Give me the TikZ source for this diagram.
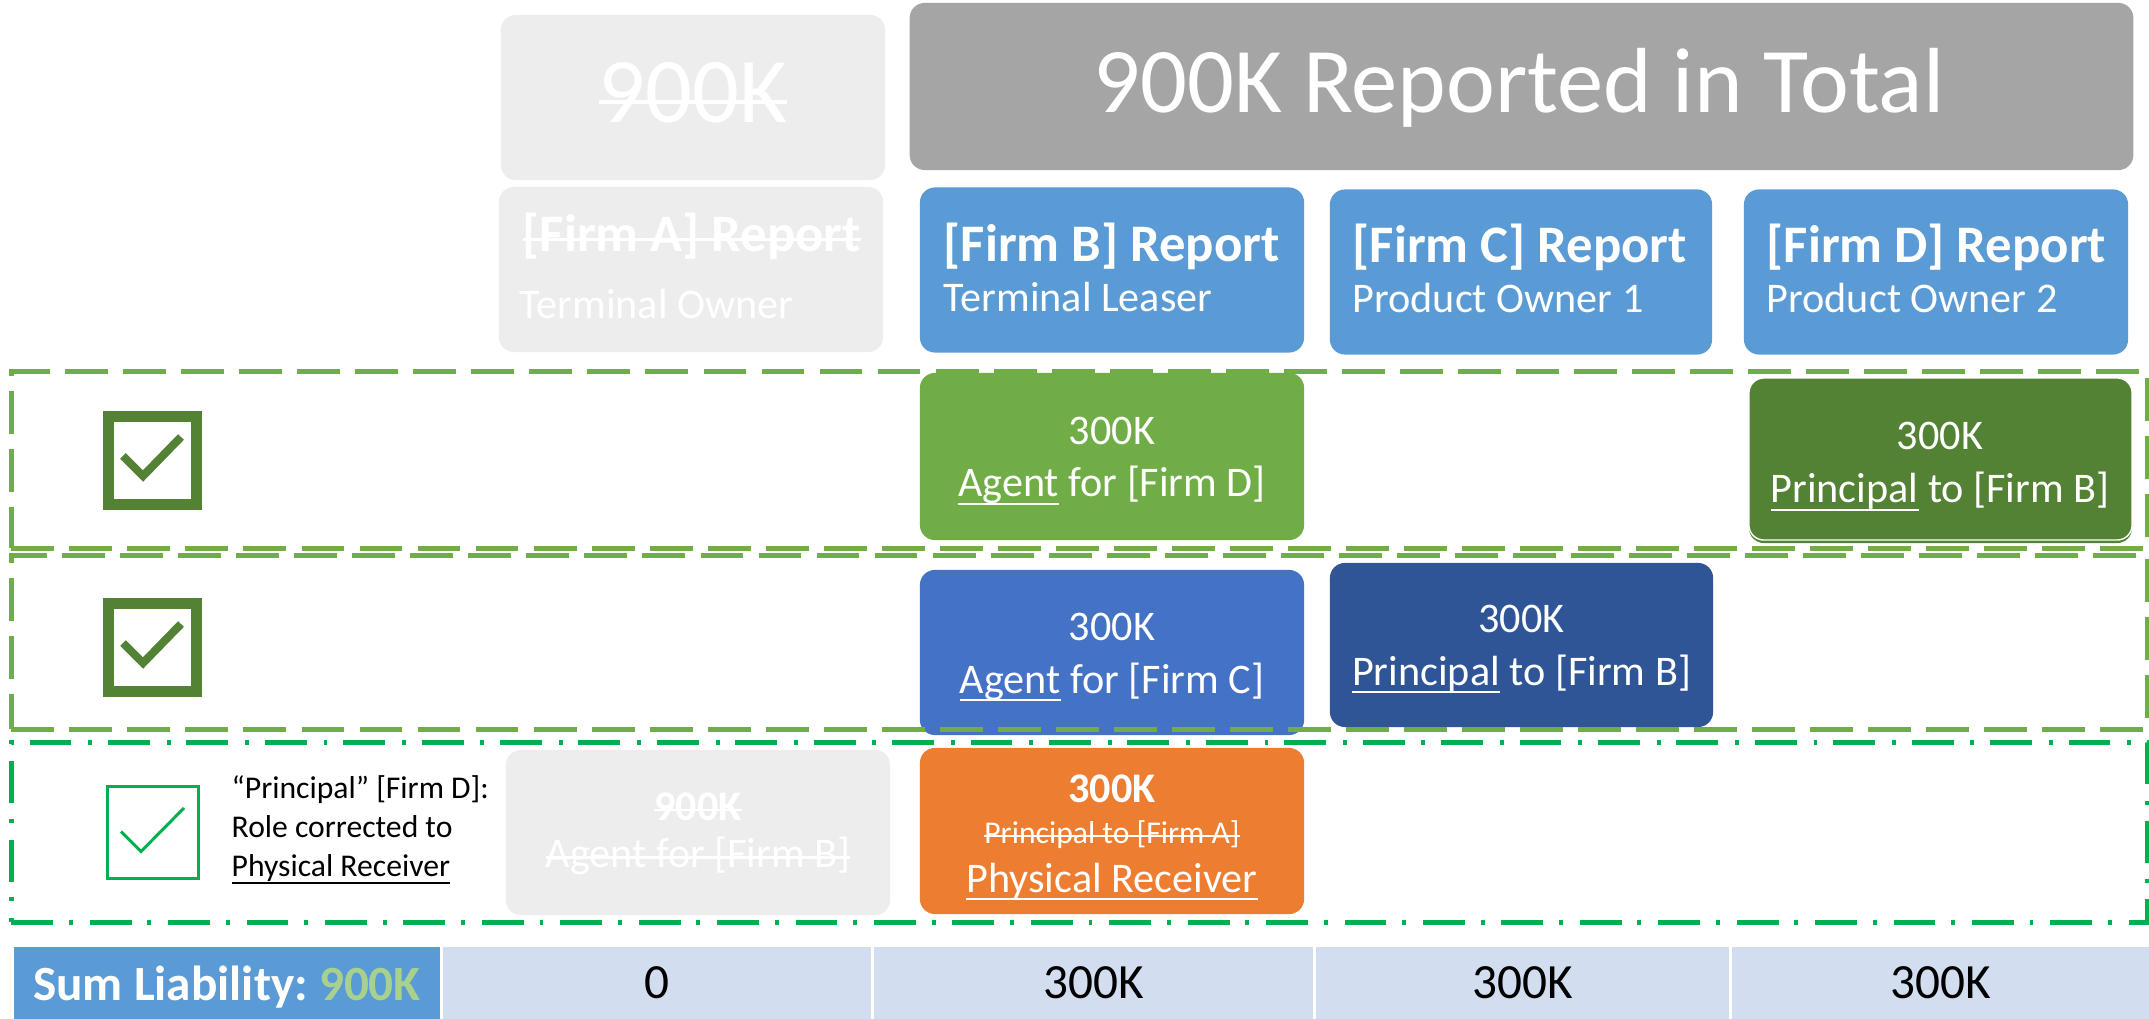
\documentclass[tikz,border=0pt]{standalone}
\usepackage{fontspec}
\setmainfont{Carlito}
\usepackage{tikz}
\usetikzlibrary{calc}
\frenchspacing

\newsavebox\linebox
\newcommand{\ulin}[1]{\sbox\linebox{#1}\rlap{\rule[-2.3pt]{\wd\linebox}{0.6pt}}\usebox\linebox}
\newcommand{\strk}[2][0.6pt]{\sbox\linebox{#2}\rlap{\rule[0.42ex]{\wd\linebox}{#1}}\usebox\linebox}

\definecolor{faded}{HTML}{EDEDED}
\definecolor{topgray}{HTML}{A5A5A5}
\definecolor{rptblue}{HTML}{5B9BD5}
\definecolor{agtgreen}{HTML}{70AD47}
\definecolor{prgreen}{HTML}{548235}
\definecolor{agtblue}{HTML}{4472C4}
\definecolor{prblue}{HTML}{2F5597}
\definecolor{fixorange}{HTML}{ED7D31}
\definecolor{cellblue}{HTML}{D2DEEF}
\definecolor{sumgreen}{HTML}{A9D18E}
\definecolor{okgreen}{HTML}{00B050}

\begin{document}
\begin{tikzpicture}[x=0.01cm,y=-0.01cm]
  \tikzstyle{box}=[rectangle,rounded corners=0.15cm,minimum width=3.84cm,minimum height=1.65cm,inner sep=0pt,outer sep=0pt]
  \tikzstyle{lbl}=[inner sep=0pt,anchor=base,text=white,font=\fontsize{12}{14}\selectfont]
  \tikzstyle{head}=[lbl,anchor=base west,font=\fontsize{15}{18}\selectfont\bfseries]
  \tikzstyle{sub}=[lbl,anchor=base west]
  \tikzstyle{big}=[lbl,font=\fontsize{26.3}{31}\selectfont]
  \tikzstyle{note}=[inner sep=0pt,anchor=base west,font=\fontsize{9}{11}\selectfont]
  \tikzstyle{cell}=[rectangle,fill=cellblue,minimum height=0.72cm,inner sep=0pt,text depth=0pt,font=\fontsize{14}{17}\selectfont]
  \tikzstyle{frame}=[rectangle,draw=agtgreen,line width=1.4pt,dash pattern=on 12.2pt off 4.3pt,minimum width=21.35cm,inner sep=0pt]
  \tikzstyle{fixframe}=[rectangle,draw=okgreen,line width=1.4pt,dash pattern=on 11.9pt off 4.5pt on 1.1pt off 4.8pt,minimum width=21.35cm,inner sep=0pt]
  \tikzstyle{chkbox}=[rectangle,draw=prgreen,line width=3.1pt,minimum size=0.88cm,inner sep=0pt]
  \tikzstyle{tick}=[line width=2.3pt,prgreen]

  \fill[white] (0,0) rectangle (2149,1019);
  \useasboundingbox (0,0) rectangle (2149,1019);

  % header
  \node[box,fill=faded] (T0) at (693,97.5) {};
  \node[big] (t0) at (693,123) {\strk[1.4pt]{900K}};
  \node[box,fill=topgray,minimum width=12.23cm,minimum height=1.67cm] (T1) at (1521.5,86.5) {};
  \node[big] (t1) at (1519,113) {900K Reported in Total};

  \node[box,fill=faded] (A) at (691,269.5) {};
  \node[head] (a1) at (522,252) {\strk[0.8pt]{[Firm A] Report}};
  \node[sub] (a2) at (519,319) {Terminal Owner};
  \node[box,fill=rptblue] (B) at (1112,270) {};
  \node[head] (b1) at (943,262) {[Firm B] Report};
  \node[sub] (b2) at (943,312) {Terminal Leaser};
  \node[box,fill=rptblue,minimum width=3.82cm] (C) at (1521,272) {};
  \node[head] (c1) at (1352,263) {[Firm C] Report};
  \node[sub] (c2) at (1352,313) {Product Owner 1};
  \node[box,fill=rptblue] (D) at (1936,272) {};
  \node[head] (d1) at (1766,263) {[Firm D] Report};
  \node[sub] (d2) at (1766,313) {Product Owner 2};

  % row 1
  \node[box,fill=agtgreen,minimum height=1.67cm] (G1) at (1112,456.5) {};
  \node[lbl] (g11) at (1112,445) {300K};
  \node[lbl] (g12) at (1112,497) {\ulin{Agent} for [Firm D]};
  \node[box,fill=prgreen,minimum width=3.83cm,minimum height=1.62cm] (G2s) at (1940.5,462) {};
  \node[box,fill=prgreen,draw=white,line width=0.4pt,minimum width=3.83cm,minimum height=1.62cm] (G2) at (1940.5,459) {};
  \node[lbl] (g21) at (1940,450) {300K};
  \node[lbl] (g22) at (1940,503) {\ulin{Principal} to [Firm B]};

  % row 2
  \node[box,fill=agtblue] (B1) at (1112,652.5) {};
  \node[lbl] (b11) at (1112,640) {300K};
  \node[lbl] (b12) at (1112,693) {\ulin{Agent} for [Firm C]};
  \node[box,fill=prblue,minimum width=3.83cm,minimum height=1.64cm] (B2) at (1521.5,645) {};
  \node[lbl] (b21) at (1521.5,633) {300K};
  \node[lbl] (b22) at (1521.5,685) {\ulin{Principal} to [Firm B]};

  % row 3
  \node[box,fill=faded] (F3) at (698,832.5) {};
  \node[lbl,font=\fontsize{12}{14}\selectfont\bfseries] (f31) at (698,820) {\strk{900K}};
  \node[lbl] (f32) at (698,867) {\strk{Agent for [Firm B]}};
  \node[box,fill=fixorange,minimum height=1.66cm] (O1) at (1112,831) {};
  \node[lbl,font=\fontsize{12}{14}\selectfont\bfseries] (o11) at (1112,802) {300K};
  \node[lbl,font=\fontsize{9}{11}\selectfont] (o12) at (1112,843) {\strk{Principal to [Firm A]}};
  \node[lbl] (o13) at (1112,892) {\ulin{Physical Receiver}};

  % frames
  \node[frame,minimum height=1.76cm] (R1) at (1079.5,460) {};
  \node[frame,minimum height=1.73cm] (R2) at (1079.5,642.5) {};
  \node[fixframe,minimum height=1.79cm] (R3) at (1079.5,832.5) {};

  % checks
  \node[chkbox] (K1) at (152.5,460.5) {};
  \draw[tick] ($(K1)+(-29.5,-4.5)$) -- ($(K1)+(-9.5,15.5)$) -- ($(K1)+(28.5,-23.5)$);
  \node[chkbox] (K2) at (152.5,647.5) {};
  \draw[tick] ($(K2)+(-29.5,-4.5)$) -- ($(K2)+(-9.5,15.5)$) -- ($(K2)+(28.5,-23.5)$);
  \node[chkbox,draw=okgreen,line width=0.85pt,minimum size=0.91cm] (K3) at (153,832.5) {};
  \draw[line width=0.85pt,okgreen] ($(K3)+(-32,-1)$) -- ($(K3)+(-12,19)$) -- ($(K3)+(31,-24.5)$);

  \node[note] (n1) at (231,798) {``Principal'' [Firm D]:};
  \node[note] (n2) at (231,837) {Role corrected to};
  \node[note] (n3) at (231,876) {\ulin{Physical Receiver}};

  % sums
  \node[cell,fill=rptblue,minimum width=4.26cm,text=white,font=\fontsize{14}{17}\selectfont\bfseries] (S0) at (227,983) {Sum Liability: \textcolor{sumgreen}{900K}};
  \node[cell,minimum width=4.28cm] (S1) at (657,983) {0};
  \node[cell,minimum width=4.39cm] (S2) at (1093.5,983) {300K};
  \node[cell,minimum width=4.13cm] (S3) at (1522.5,983) {300K};
  \node[cell,minimum width=4.17cm] (S4) at (1940.5,983) {300K};
\end{tikzpicture}
\end{document}
